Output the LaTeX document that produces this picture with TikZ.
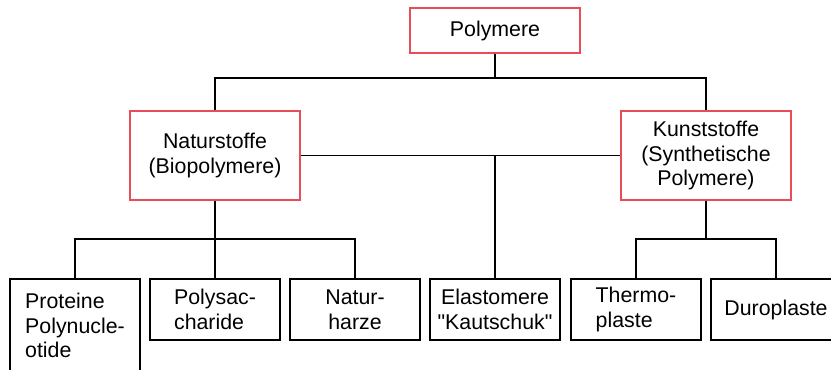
\documentclass[tikz,border=0pt]{standalone}
\usepackage{fontspec}
\setmainfont{Liberation Sans}[Ligatures=TeXOff]
\definecolor{boxred}{RGB}{232,77,87}
\begin{document}
\begin{tikzpicture}[x=0.75pt,y=-0.75pt,
  every node/.style={font=\fontsize{16}{18.4}\selectfont, inner sep=0pt},
  redbox/.style={draw=boxred, line width=0.8pt, minimum width=127.5pt, align=center},
  leafbox/.style={draw=black, line width=0.8pt, minimum width=97.5pt, minimum height=45.75pt},
  link/.style={draw=black, line width=0.8pt}]
\useasboundingbox (0,0) rectangle (831,369);
\clip (0,0) rectangle (831,369);

% upper levels
\node[redbox, minimum height=33.75pt] (poly) at (495,30.5) {Polymere};
\node[redbox, minimum height=66.75pt] (nat) at (215,155.5) {Naturstoffe\\(Biopolymere)};
\node[redbox, minimum height=66.75pt] (kun) at (706,155.5) {Kunststoffe\\(Synthetische\\Polymere)};

% leaves
\node[leafbox, minimum height=90pt] (prot) at (75,339) {};
\node[anchor=north, align=left] (prottxt) at (75,293) {Proteine\\Polynucle-\\otide};
\node[leafbox, align=left] (polys) at (215,309.5) {Polysac-\\charide};
\node[leafbox, align=center] (harz) at (355,309.5) {Natur-\\harze};
\node[leafbox, align=center] (elast) at (495,309.5) {Elastomere\\"Kautschuk"};
\node[leafbox, align=left] (thermo) at (636,309.5) {Thermo-\\plaste};
\node[leafbox] (duro) at (776,309.5) {Duroplaste};

% junction points
\coordinate (j1) at (495,78);
\coordinate (j2) at (215,239);
\coordinate (j3) at (706,239);

% connectors
\draw[link] (poly.south) -- (j1);
\draw[link] (nat.north) -- (nat.north |- j1) -- (kun.north |- j1) -- (kun.north);
\draw[link] (nat.east) -- (kun.west);
\draw[link] (elast.north |- nat.east) -- (elast.north);
\draw[link] (nat.south) -- (j2);
\draw[link] (prot.north) -- (prot.north |- j2) -- (harz.north |- j2) -- (harz.north);
\draw[link] (j2) -- (polys.north);
\draw[link] (kun.south) -- (j3);
\draw[link] (thermo.north) -- (thermo.north |- j3) -- (duro.north |- j3) -- (duro.north);
\end{tikzpicture}
\end{document}
